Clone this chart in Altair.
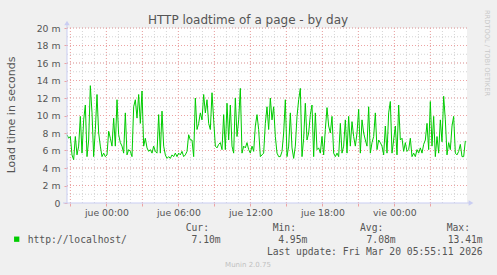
import altair as alt
import pandas as pd

# Load time (milliseconds), one sample every 500 s
load_a = [7.8, 7.4, 7.6, 5.5, 4.95, 7.6, 5.5, 6.5, 9.9, 5.7, 9.5, 11.2, 5.3, 7.2, 13.41, 10.3,
          5.3, 8.4, 12.4, 8.0, 6.5, 5.3, 5.7, 5.3, 5.5, 8.2, 7.4, 6.5, 9.7, 6.5, 11.8, 7.8,
          6.9, 6.5, 5.7, 10.3, 5.5, 6.1, 5.9, 5.3, 11.0, 11.8, 9.7, 12.4, 9.1, 12.8, 6.5, 7.4,
          6.3, 5.9, 6.1, 5.7, 6.5, 5.9, 5.7, 10.1, 5.7, 10.5, 6.5, 5.5, 5.1, 5.3, 5.1, 5.5,
          5.3, 5.7, 5.3, 5.7, 5.5, 5.9, 5.3, 5.5, 5.9, 7.8, 7.2, 7.2, 5.3, 12.0, 8.4, 9.1,
          10.3, 9.5, 12.4, 10.3, 11.8, 9.1, 8.4, 12.6, 9.5, 6.5, 6.3, 6.7, 6.9, 6.1, 10.1, 6.1,
          11.4, 7.2, 11.2, 6.5, 5.7, 12.0, 7.6, 9.5, 13.1, 5.7, 6.5, 6.3, 6.9, 6.1, 5.7, 6.5,
          5.9, 8.8, 10.1, 8.4, 5.3, 5.5, 5.7, 9.1, 11.0, 8.4, 12.0, 9.5, 11.0, 7.6, 5.7, 5.3,
          5.3]
load_b = [5.9, 8.0, 11.8, 5.3, 6.5, 10.3, 6.3, 5.1, 6.5, 9.9, 11.8, 13.1, 5.3, 7.4, 11.4, 7.2,
          8.0, 10.1, 11.2, 5.3, 10.3, 6.1, 6.3, 5.7, 7.6, 5.5, 8.4, 10.9, 8.8, 8.0, 9.9, 5.7,
          5.3, 5.7, 5.3, 9.1, 5.7, 6.5, 9.5, 5.7, 9.9, 6.5, 9.3, 7.6, 6.5, 8.0, 10.7, 5.7,
          9.5, 8.0, 7.2, 6.5, 11.0, 5.7, 6.9, 7.6, 10.3, 6.1, 7.2, 6.9, 6.5, 5.5, 8.8, 5.7,
          10.3, 11.6, 5.7, 7.2, 8.8, 5.5, 11.2, 7.2, 7.4, 5.9, 6.9, 5.9, 6.1, 7.4, 5.3, 5.7,
          5.3, 6.1, 5.7, 6.3, 5.7, 6.7, 7.2, 9.1, 6.1, 11.6, 6.5, 9.9, 5.3, 7.6, 5.7, 9.5,
          7.0, 12.2, 9.5, 5.5, 6.9, 6.1, 8.8, 9.9, 5.7, 5.5, 5.9, 6.7, 5.3, 5.3, 7.1]
load_ms = load_a + load_b

series_name = "http://localhost/"
stat_heads = ["Cur:", "Min:", "Avg:", "Max:"]
stat_vals = ["7.10m", "4.95m", "7.08m", "13.41m"]
y_ticks = list(range(0, 21, 2))
day_names = ["dom", "lun", "mar", "mié", "jue", "vie", "sáb"]

start = pd.Timestamp("2026-03-18 20:43:00")
step_s = 500
times = [start + pd.Timedelta(seconds=step_s * i) for i in range(len(load_ms))]
df = pd.DataFrame({"t": times, "v": load_ms})

hours = pd.date_range("2026-03-18 21:00", "2026-03-20 05:00", freq="h")
minor_h = pd.DataFrame({"t": hours})
major_h = pd.DataFrame({"t": [h for h in hours if h.hour % 3 == 0]})
minor_v = pd.DataFrame({"v": list(range(1, 21))})
major_v = pd.DataFrame({"v": y_ticks[1:]})


def dt(ts):
    return alt.DateTime(year=ts.year, month=ts.month, date=ts.day,
                        hours=ts.hour, minutes=ts.minute, seconds=ts.second)


x_dom = [dt(start), dt(start + pd.Timedelta(seconds=120000))]
x_scale = alt.Scale(domain=x_dom)
y_scale = alt.Scale(domain=[0, 20], nice=False)

W, H = 400, 175
GRID_MINOR = "#D4D4D4"
GRID_MAJOR = "#EDA3A3"
AXIS_COL = "#C9CDF2"
TXT = "#555555"
DASH = [1, 2]

names_js = "[" + ",".join("'%s'" % d for d in day_names) + "]"
x_axis = alt.Axis(
    values=[dt(h) for h in major_h["t"]],
    labelExpr="hours(datum.value) % 6 == 0 ? " + names_js +
              "[day(datum.value)] + ' ' + timeFormat(datum.value, '%H:%M') : ''",
    grid=False, domain=False, tickColor=GRID_MAJOR, tickSize=3, labelPadding=2,
    labelFont="DejaVu Sans", labelFontSize=9.3, labelColor=TXT, title=None,
    labelFlush=False, labelOverlap=False,
)
y_axis = alt.Axis(
    values=y_ticks,
    labelExpr="datum.value == 0 ? '0' : datum.value + ' m'",
    grid=False, domain=False, tickColor=GRID_MAJOR, tickSize=3, labelPadding=4,
    labelFont="DejaVu Sans", labelFontSize=9.3, labelColor=TXT, title=None,
)

XT = alt.X("t:T", scale=x_scale, axis=x_axis)
YV = alt.Y("v:Q", scale=y_scale, axis=y_axis)

line = alt.Chart(df).mark_line(color="#00CC00", strokeWidth=1).encode(x=XT, y=YV)
gx_minor = alt.Chart(minor_h).mark_rule(color=GRID_MINOR, strokeDash=DASH, strokeWidth=1).encode(x=XT)
gy_minor = alt.Chart(minor_v).mark_rule(color=GRID_MINOR, strokeDash=DASH, strokeWidth=1).encode(y=YV)
gx_major = alt.Chart(major_h).mark_rule(color=GRID_MAJOR, strokeDash=DASH, strokeWidth=1).encode(x=XT)
gy_major = alt.Chart(major_v).mark_rule(color=GRID_MAJOR, strokeDash=DASH, strokeWidth=1).encode(y=YV)

one = pd.DataFrame({"a": [0]})
y_line = alt.Chart(one).mark_rule(color=AXIS_COL, strokeWidth=1).encode(
    x=alt.value(0), y=alt.value(-5), y2=alt.value(H))
x_line = alt.Chart(one).mark_rule(color=AXIS_COL, strokeWidth=1).encode(
    x=alt.value(-4), x2=alt.value(403), y=alt.value(H))
y_arrow = alt.Chart(one).mark_point(shape="triangle-up", filled=True, color=AXIS_COL,
                                    size=30, opacity=1).encode(x=alt.value(0), y=alt.value(-5))
x_arrow = alt.Chart(one).mark_point(shape="triangle-right", filled=True, color=AXIS_COL,
                                    size=30, opacity=1).encode(x=alt.value(404), y=alt.value(H))


def txt(s, x, y, size, font="DejaVu Sans", align="left", color=TXT, angle=0, baseline="alphabetic"):
    kw = dict(text=s, align=align, baseline=baseline, font=font, fontSize=size, color=color)
    if angle:
        kw["angle"] = angle
    return alt.Chart(one).mark_text(**kw).encode(x=alt.value(x), y=alt.value(y))


texts = [
    txt("HTTP loadtime of a page - by day", 181, -4.5, 12, align="center"),
    txt("Load time in seconds", -55, 87, 11, align="center", angle=270, baseline="middle"),
    txt("RRDTOOL / TOBI OETIKER", 419.5, 25, 6.7, align="center", angle=90,
        color="#C8C8C8", baseline="middle"),
    txt(series_name, -39.3, 214.8, 9.7, font="DejaVu Sans Mono"),
    txt("Last update: Fri Mar 20 05:55:11 2026", 415.7, 226.5, 9.7,
        font="DejaVu Sans Mono", align="right"),
    txt("Munin 2.0.75", 181, 238.8, 7, align="center", color="#C0C0C0"),
]
head_x = [118.7, 205.7, 293, 379.7]
val_x = [153.7, 240.3, 328.7, 415.7]
for hx, vx, h, v in zip(head_x, val_x, stat_heads, stat_vals):
    texts.append(txt(h, hx, 203.2, 9.7, font="DejaVu Sans Mono"))
    texts.append(txt(v, vx, 214.8, 9.7, font="DejaVu Sans Mono", align="right"))

swatch = alt.Chart(one).mark_point(shape="square", filled=True, color="#00CC00",
                                   size=28, opacity=1).encode(x=alt.value(-50.3), y=alt.value(211.2))

chart = alt.layer(
    gx_minor, gy_minor, gx_major, gy_major, line,
    y_line, x_line, y_arrow, x_arrow, swatch, *texts
).properties(
    width=W, height=H,
    autosize=alt.AutoSizeParams(type="none"),
    padding={"left": 67, "top": 28, "right": 30, "bottom": 72},
    background="#F0F0F0",
).configure_view(fill="white", stroke=None)

chart.save("out.html", embed_options={"renderer": "svg", "actions": False})
